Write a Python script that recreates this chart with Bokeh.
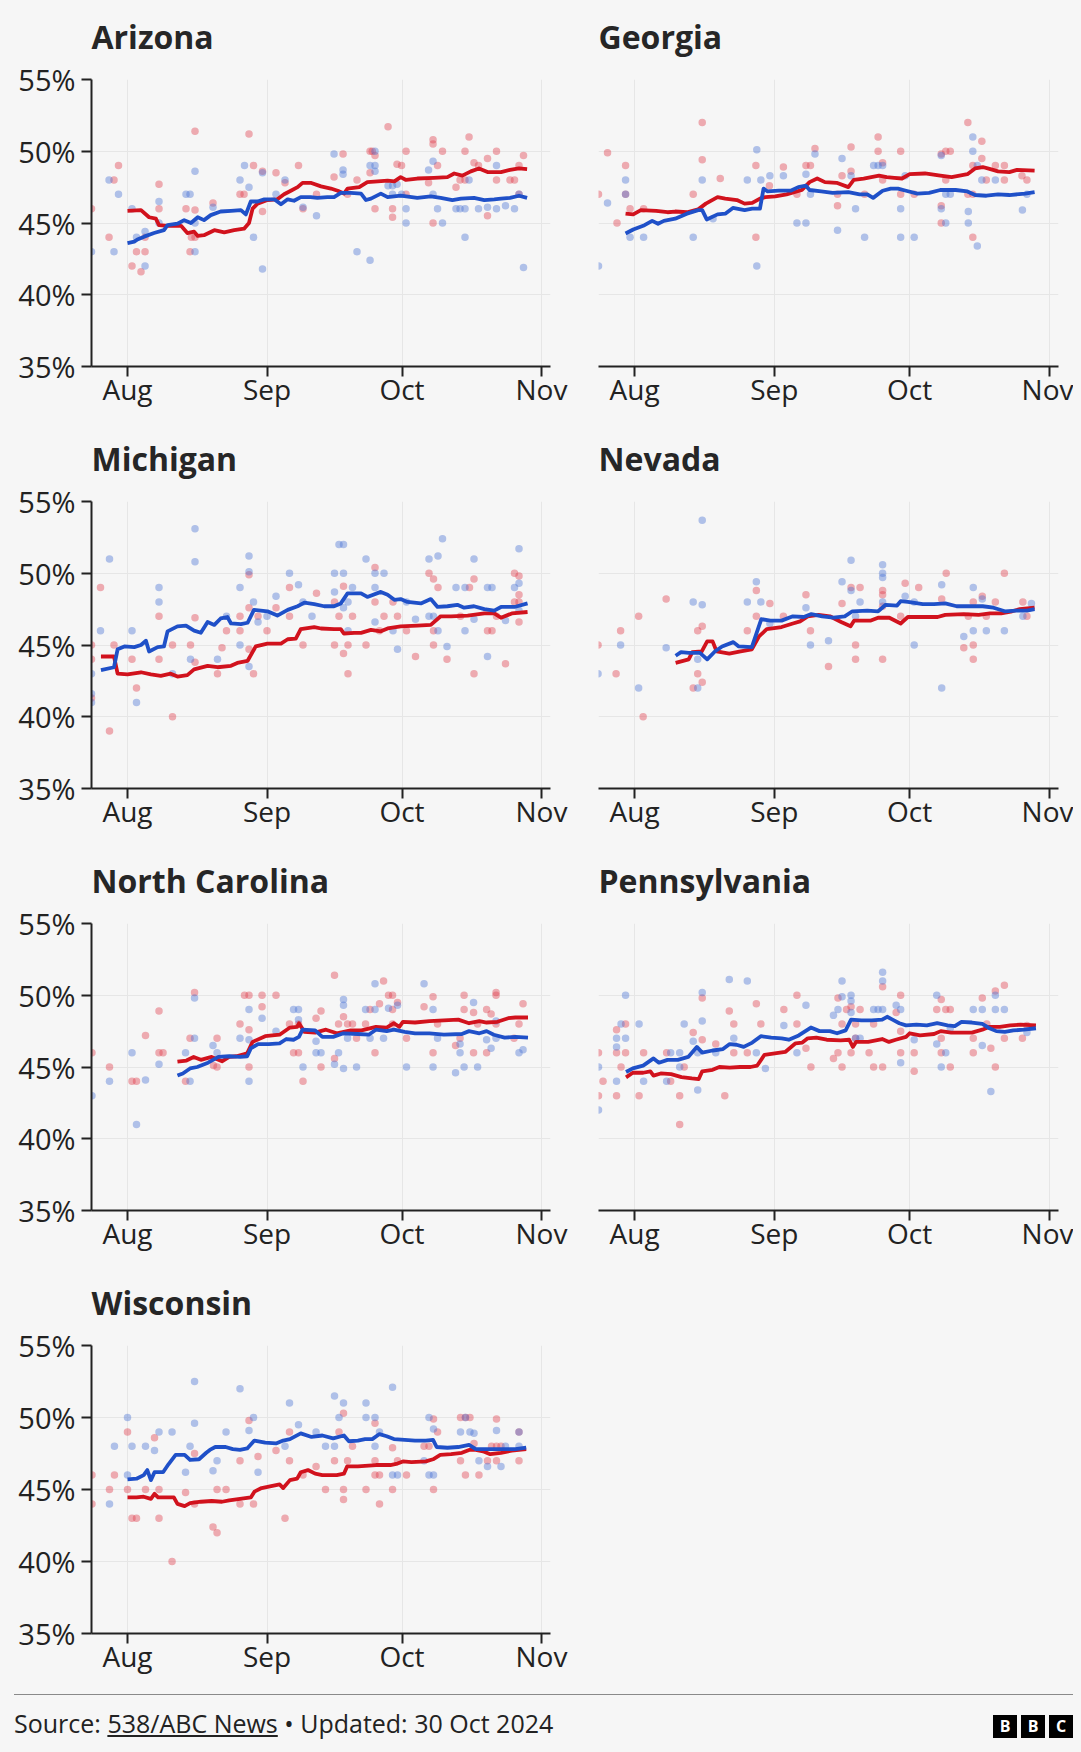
import datetime as dt
from bokeh.plotting import figure
from bokeh.layouts import column, row
from bokeh.models import Range1d, FixedTicker, DatetimeTickFormatter, PrintfTickFormatter, Div
from bokeh.embed import file_html
from bokeh.resources import INLINE

# ---------------- data (day offsets are days after 1 Aug 2024, values in %) ----------------
STATES = ["Arizona", "Georgia", "Michigan", "Nevada", "North Carolina", "Pennsylvania", "Wisconsin"]
X_TICK_DATES = ["2024-08-01", "2024-09-01", "2024-10-01", "2024-11-01"]   # labelled Aug, Sep, Oct, Nov
Y_TICKS = [35, 40, 45, 50, 55]
SOURCE = "538/ABC News"
UPDATED = "30 Oct 2024"

AZ_REP_LINE = [(0,45.85),(3,45.9),(4.8,45.4),(6.3,45.3),(7,44.85),(8.9,44.8),(11.9,44.8),(13.3,44.3),(14.8,44.4),(15.6,44.1),(17,44.15),(19.3,44.5),(21.5,44.35),(23.7,44.5),(25.9,44.6),(27,45.0),(27.8,46.0),(28.9,46.35),(31.1,46.6),(33.3,46.65),(34.8,47.0),(36.3,47.25),(37.8,47.5),(38.9,47.8),(40.7,47.8),(43,47.55),(45.2,47.4),(46.7,47.25),(48.1,47.05),(48.9,47.4),(51.5,47.5),(53.3,47.85),(55.6,47.9),(57.8,47.95),(59.3,47.9),(60.7,48.2),(61.9,48.0),(64.4,48.1),(68.1,48.15),(71.1,48.2),(72.6,48.45),(74.4,48.3),(76.3,48.6),(78.1,48.8),(80,48.55),(83,48.55),(85,48.7),(87,48.8),(88.8,48.75)]
AZ_DEM_LINE = [(0,43.6),(1.5,43.7),(2.2,43.85),(3.7,44.05),(5.9,44.3),(8.1,44.5),(8.9,44.85),(11.1,44.95),(12.6,45.2),(14.1,45.0),(15.6,45.4),(17,45.2),(18.5,45.55),(20.7,45.8),(23,45.85),(25.2,45.9),(26.3,45.6),(27.4,46.5),(28.9,46.5),(30.4,46.65),(32.6,46.65),(34.1,46.3),(35.6,46.65),(37,46.55),(38.5,46.8),(40.7,46.8),(42.2,46.75),(44.4,46.8),(45.9,46.8),(47.4,47.1),(49.6,47.1),(51.9,47.05),(53,46.6),(54.1,46.7),(56.3,47.05),(57.8,46.8),(60.7,46.9),(64.4,46.75),(67.4,46.85),(69.6,46.75),(72.2,46.6),(74.1,46.7),(77,46.75),(79.3,46.6),(81.5,46.65),(83,46.7),(85,46.75),(87,46.9),(88.8,46.75)]
AZ_REP_POLLS = [(-8,46.0),(-4.1,44.0),(-3,48.0),(-2,49.0),(1,42.0),(2,43.0),(3,41.6),(3.9,43.0),(3.9,44.0),(7,47.7),(7,46.0),(13,46.0),(13.9,43.0),(15,51.4),(15,45.9),(14.2,44.0),(15,44.0),(19,46.4),(25,47.0),(25.9,47.0),(27,51.2),(28,49.0),(30,45.8),(30,48.6),(33,48.5),(35,47.8),(38,49.0),(39,46.0),(42,47.0),(45.9,48.2),(47.9,49.8),(51,48.0),(48.9,47.0),(53.9,50.0),(54.4,50.0),(53.9,48.5),(55,49.7),(55,46.0),(57.9,51.7),(58.9,46.0),(58.9,45.4),(59.9,49.1),(60.9,49.0),(61.9,50.0),(61.9,47.0),(66.9,47.8),(67.9,50.8),(67.9,50.5),(67.9,45.0),(68.9,49.0),(70,50.0),(73,47.5),(75,50.0),(73.9,48.0),(75,48.0),(75.9,51.0),(77,49.2),(78,49.0),(80,49.5),(80,45.5),(82,50.0),(82,48.0),(88,49.7),(87,49.0),(86,48.0),(87,47.0),(85,48.0)]
AZ_DEM_POLLS = [(-8,43.0),(-4.1,48.0),(-3,43.0),(-2,47.0),(1,46.0),(2,44.0),(3.9,44.4),(3.9,42.0),(7,46.5),(7,45.0),(13,47.0),(13.9,47.0),(15,48.6),(15,45.0),(15,43.0),(19,46.1),(25,48.0),(26,49.0),(27,47.5),(28,44.0),(30,48.5),(30,41.8),(33,47.0),(35,48.0),(39,46.1),(42,45.5),(45.9,49.8),(47.9,48.7),(47.9,48.4),(51,43.0),(53.9,42.4),(53.9,49.0),(55,49.0),(55,50.0),(55,48.6),(57.9,47.6),(58.9,47.6),(59.9,47.7),(58.9,47.0),(61.9,46.0),(61.9,45.0),(60.9,47.0),(67.9,49.3),(67.9,47.0),(66.9,48.7),(68.9,46.0),(70,45.0),(73,46.0),(73.9,46.0),(75,46.0),(75,44.0),(75.9,48.0),(78,46.0),(80,46.1),(82,46.0),(82,49.0),(86,46.0),(88,41.9),(87,47.0),(84,46.2)]

GA_REP_LINE = [(-2,45.66),(-0.3,45.6),(1.4,45.9),(4.8,45.85),(7.3,45.75),(9,45.8),(11.6,45.75),(14.1,45.95),(15.8,46.35),(18.4,46.8),(20.1,46.7),(22.7,46.6),(24.4,46.35),(26.1,46.4),(27.8,46.7),(29,46.8),(31.2,46.85),(33.7,47.0),(37.1,47.3),(38.8,47.85),(40.5,48.1),(42.2,47.85),(44.8,47.8),(47.4,47.5),(48.6,48.0),(50.8,48.1),(54.2,48.3),(55.9,48.2),(57.6,48.15),(59.3,48.1),(61,48.4),(64.4,48.45),(67.8,48.3),(70.3,48.2),(73.8,48.4),(75.5,48.8),(77.2,48.9),(78.9,48.75),(80.6,48.6),(83.1,48.55),(84.8,48.7),(88.7,48.65)]
GA_DEM_LINE = [(-2,44.27),(-0.3,44.55),(2.2,44.85),(3.9,45.15),(5.2,44.95),(6.5,45.15),(9,45.3),(11.6,45.65),(14.1,45.9),(15,45.9),(16,45.25),(18.4,45.6),(20.1,45.65),(21.8,46.05),(24.4,45.9),(26.1,46.0),(27.8,46.0),(28.6,47.4),(29.5,47.2),(32,47.25),(34.6,47.25),(36.3,47.5),(38,47.6),(38.8,47.3),(41.4,47.2),(43.9,47.1),(47.4,47.15),(49.9,47.0),(51.6,47.0),(52.9,46.75),(55,47.25),(56.8,47.4),(58.4,47.4),(60.2,47.25),(62.7,47.05),(65.3,47.1),(67.8,47.3),(71.2,47.3),(73.8,47.2),(75.5,46.95),(78,46.9),(80.6,47.0),(83.1,46.95),(86.6,47.05),(88.7,47.15)]
GA_REP_POLLS = [(-8,47.0),(-6,49.9),(-3.9,45.0),(-2,49.0),(-2,47.0),(-1,46.0),(2,46.0),(13,47.0),(15,52.0),(15,49.4),(19,48.1),(26.9,49.0),(26.9,44.0),(29.9,47.6),(33,48.9),(38,49.0),(39,49.0),(40,50.2),(36,47.0),(45,47.0),(45,46.2),(46,48.3),(48,50.3),(48,48.6),(51,47.0),(54,51.0),(54,50.0),(55,49.2),(55,48.0),(59,50.0),(59,47.0),(62,47.0),(68,49.8),(68,46.2),(68,45.0),(69,48.0),(69,50.0),(70,50.0),(73.9,52.0),(75,49.0),(75,44.0),(77,50.7),(77,49.5),(73.9,47.0),(75,47.0),(78,48.0),(80,49.0),(82,49.0),(82,48.0),(85.9,48.3),(87,48.0)]
GA_DEM_POLLS = [(-8,42.0),(-6,46.4),(-2,48.0),(-2,47.0),(-1,44.0),(2,44.0),(13,44.0),(15,48.0),(17.4,45.3),(25,48.0),(28,48.0),(27.1,50.1),(27.1,42.0),(30,48.3),(33,48.3),(36,45.0),(38,45.0),(38,48.4),(39,47.0),(40,49.8),(45,44.5),(46,49.5),(48,48.3),(49,46.0),(51,44.0),(53,49.0),(54,49.0),(55,49.0),(59,46.0),(59,44.0),(60,48.3),(62,44.0),(68,49.7),(68,46.0),(69,47.0),(70,47.0),(69,45.0),(74,45.8),(74,45.0),(75,51.0),(75,50.0),(76,43.4),(76,49.0),(77,48.0),(80,48.0),(86,45.9),(87,47.0)]

MI_REP_LINE = [(-5.9,44.2),(-3,44.2),(-2.2,43.0),(0,42.95),(3,43.1),(5.2,42.95),(7.4,42.85),(9.6,43.0),(11.1,42.8),(13.3,42.9),(14.8,43.3),(17.8,43.55),(20,43.45),(23,43.55),(24.4,43.75),(26.7,43.9),(28.5,44.9),(31.1,45.1),(34.1,45.1),(35.6,45.4),(37.4,45.45),(38.5,46.1),(41.5,46.25),(43,46.15),(45.9,46.1),(47.4,46.1),(48.1,45.8),(50.4,45.85),(51.9,45.85),(54.1,46.05),(56.3,45.95),(57.8,46.15),(60.7,46.3),(64.4,46.35),(67.4,46.4),(69.6,47.0),(71.9,47.0),(75.6,47.05),(79.3,47.2),(81.5,47.2),(83,46.9),(85.4,47.2),(88.9,47.3)]
MI_DEM_LINE = [(-5.9,43.25),(-3,43.45),(-2.2,44.7),(-0.7,44.9),(1.5,44.85),(3,45.0),(4.1,45.3),(4.8,44.55),(6.7,44.85),(8.1,44.9),(8.9,45.95),(11.1,46.3),(13,46.35),(14.8,46.0),(16.3,45.85),(17.8,46.6),(19.3,46.4),(20.7,46.85),(22.2,46.95),(23,46.5),(25.2,46.45),(26.7,46.55),(28.1,47.45),(31.1,47.35),(33.3,47.05),(35.6,47.45),(37.8,47.7),(39.3,47.95),(41.5,47.85),(43.7,47.7),(45.9,47.7),(47.4,47.9),(48.9,48.6),(51.9,48.6),(53.3,48.35),(56.3,48.7),(57.8,48.5),(59.3,48.15),(60.7,48.2),(62.2,48.0),(65.2,47.9),(67.4,48.2),(68.9,47.65),(71.1,47.7),(73.3,47.8),(74.8,47.6),(77,47.7),(79.3,47.5),(81.5,47.4),(83,47.65),(86,47.65),(88.9,47.9)]
MI_REP_POLLS = [(-8,45.0),(-8,44.0),(-8,41.3),(-6,49.0),(-4,39.0),(-3,45.0),(1,44.0),(2,42.0),(7,47.0),(7,44.0),(10,45.0),(10,40.0),(14,45.0),(15,46.9),(15,43.8),(20,43.0),(21,44.8),(22,46.0),(25,46.0),(25,47.0),(27,47.6),(27,49.9),(27,44.7),(28,43.0),(29,47.0),(31,46.0),(33,47.6),(36,49.0),(36,47.0),(39,45.0),(42,48.6),(46,45.0),(46,48.0),(47,47.0),(48,49.1),(48,44.4),(49,43.0),(49,45.0),(50,47.0),(53,45.0),(55,50.4),(55,48.0),(56,46.0),(57,47.0),(59,48.0),(60,47.0),(62,46.0),(64,44.2),(67,50.0),(68,49.6),(69,49.0),(68,46.0),(68,45.0),(71,44.0),(74,47.0),(76,49.0),(77,49.6),(77,43.0),(80,46.0),(81,46.0),(82,47.0),(86,50.0),(87,49.8),(87,48.5),(87,48.0),(87,46.6),(84,43.7),(86,48.0)]
MI_DEM_POLLS = [(-8,43.0),(-8,41.6),(-8,41.0),(-6,46.0),(-4,51.0),(1,46.0),(2,41.0),(7,49.0),(7,48.0),(10,43.0),(14,44.0),(15,53.1),(15,50.8),(20,44.0),(22,47.0),(25,49.0),(25,45.0),(27,51.2),(27,50.1),(27,43.5),(28,48.0),(29,46.6),(31,47.0),(33,48.4),(36,50.0),(38,49.2),(39,48.0),(41,47.0),(46,50.0),(46,48.7),(47,52.0),(48,52.0),(48,50.0),(48,47.6),(49,48.0),(49,46.0),(50,49.0),(53,51.0),(55,50.0),(55,49.0),(55,46.6),(57,50.0),(59,46.0),(60,44.7),(62,48.0),(64,46.8),(67,51.0),(67,47.0),(69,51.2),(70,52.4),(68,47.0),(69,46.0),(71,44.9),(73,49.0),(75,49.0),(75,46.0),(77,51.0),(77,46.8),(80,49.0),(81,49.0),(80,44.2),(87,51.7),(87,49.3),(86,49.0),(84,46.7),(87,47.4)]

NV_REP_LINE = [(9.1,43.75),(12,44.0),(12.8,44.5),(14.9,44.55),(16.1,45.25),(17.3,45.25),(18.2,44.55),(21,44.4),(23.5,44.55),(26,44.7),(27.6,45.6),(29.3,46.1),(32.6,46.25),(35.1,46.5),(36.7,46.65),(38.4,47.0),(40.8,47.1),(43.3,47.0),(45.8,46.6),(47.9,46.3),(48.7,46.7),(52.4,46.7),(54,46.9),(56.5,46.9),(59,46.5),(60.6,46.95),(63.9,46.95),(67.2,46.95),(68.9,47.1),(73,47.15),(76.3,47.1),(78.8,47.2),(81.3,47.2),(83.7,47.35),(85.4,47.5),(88.7,47.6)]
NV_DEM_LINE = [(9.1,44.25),(10.3,44.5),(12,44.45),(14.5,44.45),(16.1,44.0),(17.8,44.55),(19.4,44.9),(21.9,45.2),(23.1,44.9),(26,44.85),(28.1,46.8),(30.1,46.7),(32.6,46.7),(35.1,47.0),(37.5,46.95),(39.2,47.15),(41.6,47.0),(44.1,46.9),(46.6,47.0),(48.3,47.35),(51.6,47.4),(54,47.35),(55.7,47.8),(58.2,47.75),(59,48.05),(60.6,48.0),(63.9,47.85),(66.4,47.85),(68.9,47.9),(71.4,47.7),(74.7,47.7),(77.2,47.7),(79.6,47.6),(82.1,47.35),(84.6,47.4),(87,47.4),(88.7,47.5)]
NV_REP_POLLS = [(-8.1,45.0),(-4.1,43.0),(-3.1,46.0),(0.9,47.0),(1.9,40.0),(7,48.2),(13,42.0),(14,43.0),(14,46.0),(15,42.4),(15,46.3),(25,46.0),(27,48.8),(27,47.0),(30,47.9),(33,47.0),(38,48.5),(39,46.0),(43,43.5),(46,47.9),(48,49.0),(49,44.0),(49,45.0),(50,49.0),(55,48.8),(55,48.5),(55,44.0),(55,47.7),(59,47.0),(60,49.3),(63,49.0),(68.1,48.2),(69.1,50.0),(73,44.8),(74,47.0),(75.1,48.0),(75.1,45.0),(75.1,44.0),(77.1,48.4),(80,48.0),(82,50.0),(86.1,48.0),(87,47.0),(78,47.0)]
NV_DEM_POLLS = [(-8.1,43.0),(-3.1,45.0),(0.9,42.0),(7,44.8),(13,48.0),(14,42.0),(14,44.0),(15,53.7),(15,47.8),(25,48.0),(27,49.4),(28,48.0),(30,46.5),(38,47.6),(39,45.0),(43,45.3),(46,49.4),(48,50.9),(48,48.8),(49,47.0),(50,48.0),(55,50.6),(55,50.0),(55,49.7),(55,48.0),(60,48.4),(62,45.0),(62,48.0),(68.1,49.2),(68.1,42.0),(73,45.6),(75.1,49.0),(75.1,46.0),(77.1,48.2),(78,46.0),(82,46.0),(86.1,47.0),(88,47.9)]

NC_REP_LINE = [(11.1,45.37),(13.1,45.45),(14.7,45.7),(16.3,45.5),(18.7,45.7),(21,45.4),(22.6,45.7),(24.2,45.75),(26.6,45.95),(27.8,46.75),(30.6,47.15),(33.8,47.25),(36.1,47.75),(37.7,47.8),(38.1,48.05),(39.3,47.45),(41.7,47.4),(44.1,47.6),(46.5,47.35),(49.6,47.55),(52,47.55),(55.2,47.8),(57.6,47.75),(59.2,48.05),(60.4,47.8),(61.2,48.15),(63.9,48.1),(67.1,48.2),(70.3,48.25),(73.5,48.3),(75.9,48.05),(78.2,48.2),(79.8,48.1),(82.2,48.15),(84.6,48.4),(86.2,48.45),(89,48.45)]
NC_DEM_LINE = [(11.1,44.4),(12.3,44.55),(13.9,44.9),(15.5,45.0),(17.9,45.3),(20.2,45.7),(22.6,45.75),(25,45.7),(26.6,45.75),(27.4,46.3),(29,46.6),(31.4,46.6),(33.8,46.65),(35.3,46.95),(36.9,46.9),(38.1,47.1),(38.9,47.6),(41.7,47.55),(43.3,47.1),(45.7,47.1),(48,47.35),(51.2,47.3),(53.6,47.25),(55.2,47.6),(57.6,47.5),(59.2,47.6),(61.6,47.45),(63.9,47.35),(67.1,47.35),(70.3,47.25),(74.3,47.3),(75.9,47.5),(78.2,47.35),(79.8,47.5),(81.4,47.25),(83.8,47.05),(86.2,47.1),(89,47.05)]
NC_REP_POLLS = [(-7.9,46.0),(-4,45.0),(1,44.0),(2,44.0),(4,47.2),(7,48.9),(7,46.0),(7.9,46.0),(12.9,44.0),(13.9,47.0),(14.9,50.2),(19.1,45.1),(19.9,45.0),(19.9,47.0),(25,48.0),(26,50.0),(27,50.0),(27,47.6),(27,45.0),(29.9,50.0),(29.9,49.2),(33,50.0),(36,48.0),(36.9,46.0),(38,46.0),(38,48.0),(39,44.0),(41.9,48.4),(43,48.9),(43,45.0),(46,51.4),(46,45.6),(46.9,48.0),(48,48.5),(48.9,48.0),(50,48.0),(50.9,47.0),(52.9,48.0),(53.9,49.0),(55,46.0),(56,49.4),(56.9,51.0),(58,50.0),(58.9,50.0),(58.9,49.0),(58.9,48.0),(60,49.5),(62,47.0),(65.9,49.2),(67.9,49.9),(67.9,46.0),(68.9,48.0),(72.9,46.5),(73.9,47.0),(74.8,50.0),(74.8,49.0),(76.9,46.0),(76.9,48.8),(77.8,48.0),(79.8,49.0),(79.8,46.0),(80.8,48.7),(81.9,50.0),(81.9,50.2),(81.9,48.0),(85.9,47.0),(87,48.0),(87.9,49.4)]
NC_DEM_POLLS = [(-7.9,43.0),(-4,44.0),(1,46.0),(2,41.0),(4,44.1),(7,45.2),(12.9,46.0),(13.9,44.0),(14.9,49.8),(14.9,47.0),(19,46.5),(19.9,46.0),(25,47.0),(27,49.0),(27,46.9),(27,44.0),(29.9,48.4),(33,47.5),(36.9,49.0),(38,49.0),(38,48.3),(39,45.0),(41.9,46.8),(41.9,46.0),(43,46.0),(46,45.2),(46.9,46.0),(48,49.7),(48,49.3),(48,44.9),(48.9,47.0),(50.9,45.0),(52.9,49.0),(55,49.0),(53.9,47.0),(55,50.8),(56.9,47.0),(58,49.1),(60,49.3),(62,45.0),(65.9,50.8),(67.9,49.0),(67.9,45.0),(68.9,47.0),(72.9,44.6),(73.9,46.6),(73.9,46.0),(74.8,45.0),(76.9,49.5),(77.8,45.0),(79.8,46.9),(80.8,46.3),(81.9,48.2),(81.9,47.0),(87,46.0),(87.9,46.2)]

PA_REP_LINE = [(-1.9,44.28),(-0.4,44.6),(1.9,44.6),(3.5,44.7),(4.2,44.4),(5.8,44.55),(8.1,44.5),(10.4,44.3),(12.7,44.2),(14.2,44.15),(15,44.7),(17.3,44.8),(18.8,45.0),(21.1,44.95),(23.4,45.0),(25.7,45.0),(27.2,45.1),(28.8,45.85),(31.1,45.95),(33.4,46.05),(35.7,46.65),(37.2,46.7),(38.4,47.0),(40.3,47.05),(42.6,46.9),(45.7,46.85),(47.6,46.9),(48.4,46.4),(49.1,46.75),(51.8,46.75),(54.9,46.95),(56.4,46.75),(57.9,46.9),(60.2,47.1),(61,47.35),(63.3,47.2),(66.4,47.3),(67.9,47.5),(70.2,47.4),(72.5,47.4),(74.8,47.4),(77.1,47.6),(78.7,47.8),(81,47.8),(83.3,47.9),(85.6,47.95),(89,47.9)]
PA_DEM_LINE = [(-1.9,44.65),(-0.4,44.9),(1.9,45.1),(4.2,45.6),(5.4,45.3),(7.3,45.5),(9.6,45.5),(11.9,45.7),(13.8,46.4),(15,46.0),(17.3,46.15),(19.6,46.25),(21.1,46.6),(22.6,46.55),(24.2,46.4),(26.1,46.7),(28,47.15),(30.3,47.05),(32.6,47.0),(34.2,46.9),(36.4,47.2),(39.1,47.75),(41,47.5),(43.3,47.5),(44.9,47.35),(46.8,47.55),(48,48.3),(50.3,48.25),(52.6,48.25),(54.9,48.3),(56,48.5),(57.2,48.3),(58.7,48.05),(60.2,47.9),(62.5,47.95),(64.8,47.9),(67.1,48.05),(69.4,47.9),(71,47.85),(72.5,48.15),(74.8,48.1),(77.1,48.0),(78.7,47.7),(80.2,47.5),(82.1,47.45),(84,47.55),(86.3,47.6),(89,47.7)]
PA_REP_POLLS = [(-8,46.0),(-8,43.0),(-7,44.0),(-4,47.6),(-4,46.0),(-4,43.0),(-3,45.0),(-2,48.0),(-2,46.0),(1,43.0),(2,46.0),(7.1,46.0),(8,44.0),(10,43.0),(10,41.0),(11,45.0),(13,47.4),(15,49.8),(15,46.9),(18,46.6),(20,43.0),(21,48.9),(22,48.0),(22,46.0),(25,46.0),(27,49.4),(28,48.0),(33.1,49.0),(36,50.0),(36,48.0),(38,46.3),(39.1,45.0),(44.1,45.6),(45.1,49.8),(45.1,46.0),(46,48.0),(46,45.0),(47,49.0),(48,49.2),(48,46.0),(49,48.0),(49,47.0),(50,49.0),(52,46.0),(53,45.0),(53,48.0),(55,50.6),(55,45.0),(58,48.8),(59,50.0),(59,47.5),(59,46.0),(62,46.0),(62,44.7),(67,49.0),(68,49.7),(68,46.0),(68,47.0),(69,49.0),(70,49.0),(70,45.0),(75.1,47.0),(75.1,46.0),(77.1,49.8),(78.1,48.0),(79,46.3),(80,50.3),(80,45.0),(82,50.7),(82,47.0),(86,47.0),(87,47.9)]
PA_DEM_POLLS = [(-8,45.0),(-8,42.0),(-4,47.0),(-4,46.4),(-4,44.0),(-3,48.0),(-2,50.0),(-2,47.0),(1,48.0),(2,44.0),(7.1,44.0),(8,46.0),(10,46.0),(10,45.0),(11,48.0),(13,46.8),(14,43.4),(15,50.2),(15,48.2),(14,46.0),(18,46.0),(21,51.1),(22,47.0),(25,51.0),(27,46.0),(29,44.9),(33.1,47.9),(36,46.0),(38,49.3),(44.1,48.6),(45.1,49.0),(46,51.0),(46,49.9),(48,50.0),(48,49.6),(48,48.8),(49,47.0),(50,47.0),(53,49.0),(54,49.0),(55,49.0),(55,51.6),(55,51.0),(58,49.3),(59,49.0),(59,45.3),(62,46.9),(67,50.0),(67,46.6),(69,46.0),(68,45.0),(70,47.7),(75.1,49.0),(77.1,49.0),(77.1,46.5),(79,43.3),(80,50.0),(80,49.0),(82,49.0),(87,47.4)]

WI_REP_LINE = [(0,44.45),(2,44.45),(3.6,44.5),(5.2,44.35),(6,44.7),(6.8,44.45),(9.1,44.45),(10.3,44.45),(11.1,44.0),(12.7,43.85),(13.9,44.05),(16.3,44.15),(18.7,44.2),(21,44.15),(22.6,44.25),(25,44.35),(27.4,44.45),(28.2,44.85),(29.8,45.1),(32.2,45.25),(33.8,45.35),(34.6,45.1),(36.1,45.65),(37.7,45.75),(38.5,46.2),(40.1,46.35),(41.7,46.1),(43.3,46.0),(46.5,46.0),(48.1,46.1),(48.8,46.6),(51.2,46.6),(55.2,46.7),(58.4,46.7),(60,46.8),(61.2,46.95),(63.1,46.9),(66.3,46.95),(67.9,47.1),(69.5,47.4),(71.9,47.45),(74.3,47.55),(75.9,47.75),(77.4,47.75),(79,47.65),(80.6,47.45),(83,47.55),(85.4,47.7),(88.6,47.8)]
WI_DEM_LINE = [(0,45.7),(2,45.75),(3.6,46.0),(4.4,46.35),(5.2,45.65),(6,46.2),(7.9,46.2),(9.1,46.75),(10.7,47.4),(12.7,47.4),(13.9,47.05),(15.9,47.1),(17.5,47.55),(18.3,47.75),(19.5,47.95),(21.8,47.95),(23.4,47.8),(25,47.75),(26.6,47.85),(28.2,48.4),(30.6,48.25),(33,48.2),(34.6,48.4),(36.1,48.5),(38.5,48.9),(40.9,48.65),(43.3,48.75),(45.7,48.55),(48.1,48.75),(49.2,48.35),(51.2,48.4),(52.8,48.5),(54.4,48.5),(56,48.85),(57.6,48.7),(59.2,48.5),(61.6,48.45),(63.9,48.4),(66.3,48.4),(67.9,48.45),(68.7,47.95),(71.1,47.9),(73.5,47.95),(75.9,48.1),(77.4,47.8),(80.6,47.8),(83.8,47.8),(86.2,47.8),(88.6,47.9)]
WI_REP_POLLS = [(-7.9,46.0),(-7.9,44.0),(-4,45.0),(-2.9,46.0),(0,49.0),(0,45.0),(1,43.0),(2,43.0),(4,45.0),(6,48.6),(7,45.0),(7,43.0),(9.9,40.0),(12.9,44.8),(14.9,47.5),(14.9,44.0),(19,42.4),(19.9,42.0),(19.9,45.0),(21.9,45.0),(25,47.0),(25,44.0),(27,49.8),(28,44.0),(29,47.3),(33,47.7),(35,43.0),(36,49.0),(36,47.0),(39,46.0),(41.9,46.6),(44,45.0),(46,47.0),(47,49.0),(48,50.3),(48,45.0),(48,44.3),(48.9,47.0),(50,48.0),(53,45.0),(55,49.6),(55,47.0),(55,46.0),(56,46.0),(56,44.0),(58.9,47.9),(58.9,45.0),(60,47.0),(62,46.0),(65.9,48.0),(67,48.0),(68,49.9),(68,45.0),(68.9,49.0),(74,50.0),(75.1,50.0),(76.1,50.0),(74,47.0),(75.1,46.0),(77,48.2),(78.1,46.0),(80,47.0),(80.9,48.0),(82,48.0),(83,48.0),(82,49.9),(82,47.0),(87,49.0),(87,47.0)]
WI_DEM_POLLS = [(-4,44.0),(-2.9,48.0),(0,50.0),(0,46.0),(1,48.0),(4,48.0),(6,47.7),(7,49.0),(9.9,49.0),(12.9,46.2),(13.9,48.0),(14.9,52.5),(14.9,49.6),(19,46.3),(19.9,47.0),(21.9,49.0),(25,52.0),(27,49.1),(28,50.0),(29,46.2),(35,48.0),(36,51.0),(38,49.5),(41.9,49.0),(44,48.0),(46,48.0),(46,51.5),(47,50.0),(48,51.0),(53,51.0),(53,50.0),(55,50.0),(55,48.0),(56,49.0),(58.9,52.1),(58.9,46.0),(60,46.0),(65.9,47.0),(67,50.0),(67,46.0),(68,46.0),(68,49.2),(74,49.0),(75.1,50.0),(76.1,49.0),(77,48.9),(78.1,47.0),(80,46.6),(82,49.1),(83,46.6),(84,48.0),(87,48.0),(87,49.0)]

# ---------------- styling ----------------
BG = "#f6f6f6"
REP = "#d1121d"
DEM = "#1f50c8"
REP_DOT = "#e0414f"
DEM_DOT = "#4d74d4"
INK = "#222222"
FONT = "Open Sans"
TOP = 91          # space above each frame (holds the state title)
FRAME_H = 288

BASE = dt.datetime(2024, 8, 1)
X_START = dt.datetime(2024, 7, 24)
X_END = dt.datetime(2024, 11, 3)
EPOCH = dt.datetime(1970, 1, 1)


def to_date(d):
    return BASE + dt.timedelta(days=d)


def ms(s):
    return (dt.datetime.strptime(s, "%Y-%m-%d") - EPOCH).total_seconds() * 1000.0


def panel(name, rep_line, dem_line, rep_polls, dem_polls, left, height):
    p = figure(
        width=560 if left else 505, height=height,
        x_axis_type="datetime",
        x_range=Range1d(X_START, X_END), y_range=Range1d(35, 55),
        min_border_left=83 if left else 30, min_border_right=18 if left else 15,
        min_border_top=TOP, min_border_bottom=height - TOP - FRAME_H,
        background_fill_color=BG, border_fill_color=BG,
        outline_line_color=None, output_backend="svg", toolbar_location=None,
        title=name,
    )
    p.title.text_font = FONT
    p.title.text_font_style = "bold"
    p.title.text_font_size = "32px"
    p.title.text_color = "#262626"
    p.title.standoff = 44

    p.scatter([to_date(d) for d, v in rep_polls], [v for d, v in rep_polls], size=7.5,
              fill_color=REP_DOT, fill_alpha=0.42, line_color=None)
    p.scatter([to_date(d) for d, v in dem_polls], [v for d, v in dem_polls], size=7.5,
              fill_color=DEM_DOT, fill_alpha=0.42, line_color=None)
    p.line([to_date(d) for d, v in rep_line], [v for d, v in rep_line],
           line_color=REP, line_width=3.8, line_join="round")
    p.line([to_date(d) for d, v in dem_line], [v for d, v in dem_line],
           line_color=DEM, line_width=3.8, line_join="round")

    xa = p.xaxis[0]
    xa.ticker = FixedTicker(ticks=[ms(s) for s in X_TICK_DATES])
    xa.formatter = DatetimeTickFormatter(days="%b", months="%b", years="%b")
    ya = p.yaxis[0]
    ya.ticker = FixedTicker(ticks=Y_TICKS)
    ya.formatter = PrintfTickFormatter(format="%d%%")
    for ax in (xa, ya):
        ax.axis_line_color = INK
        ax.axis_line_width = 2
        ax.major_tick_line_color = INK
        ax.major_tick_line_width = 2
        ax.major_tick_out = 10
        ax.major_tick_in = 0
        ax.minor_tick_line_color = None
        ax.major_label_text_font = FONT
        ax.major_label_text_color = INK
    xa.major_label_text_font_size = "28px"
    ya.major_label_text_font_size = "29px"
    xa.major_label_standoff = -7
    ya.major_label_standoff = 6
    if not left:
        ya.visible = False
    p.xgrid.grid_line_color = "#e6e6e6"
    p.ygrid.grid_line_color = "#e6e6e6"
    p.xgrid.grid_line_width = 1
    p.ygrid.grid_line_width = 1
    return p


az = panel(STATES[0], AZ_REP_LINE, AZ_DEM_LINE, AZ_REP_POLLS, AZ_DEM_POLLS, True, 422)
ga = panel(STATES[1], GA_REP_LINE, GA_DEM_LINE, GA_REP_POLLS, GA_DEM_POLLS, False, 422)
mi = panel(STATES[2], MI_REP_LINE, MI_DEM_LINE, MI_REP_POLLS, MI_DEM_POLLS, True, 422)
nv = panel(STATES[3], NV_REP_LINE, NV_DEM_LINE, NV_REP_POLLS, NV_DEM_POLLS, False, 422)
nc = panel(STATES[4], NC_REP_LINE, NC_DEM_LINE, NC_REP_POLLS, NC_DEM_POLLS, True, 422)
pa = panel(STATES[5], PA_REP_LINE, PA_DEM_LINE, PA_REP_POLLS, PA_DEM_POLLS, False, 422)
wi = panel(STATES[6], WI_REP_LINE, WI_DEM_LINE, WI_REP_POLLS, WI_DEM_POLLS, True, 440)

box = ("display:inline-block;width:24px;height:23px;background:#000;color:#fff;"
       "font:bold 16px 'Open Sans';line-height:23px;text-align:center;margin-left:4px;")
footer = Div(width=1065, height=50, margin=(0, 0, 0, 0), text=f"""
<div style="position:relative;width:1065px;height:50px;font-family:'Open Sans';">
  <div style="position:absolute;left:6px;right:0;top:0;border-top:1px solid #8a8a8a;"></div>
  <div style="position:absolute;left:6px;top:13px;font-size:25px;line-height:33px;color:#222;white-space:nowrap;">Source: <span style="text-decoration:underline;">{SOURCE}</span> &bull; Updated: {UPDATED}</div>
  <div style="position:absolute;right:0;top:21px;white-space:nowrap;"><span style="{box}">B</span><span style="{box}">B</span><span style="{box}">C</span></div>
</div>""")

layout = column(row(az, ga), row(mi, nv), row(nc, pa), row(wi), footer,
                margin=(-12, 0, 0, 8), styles={"background-color": BG})

TEMPLATE = "{% block preamble %}<style>html,body{background:#f6f6f6;}</style>{% endblock %}"
open("out.html", "w").write(file_html(layout, INLINE, template=TEMPLATE))
